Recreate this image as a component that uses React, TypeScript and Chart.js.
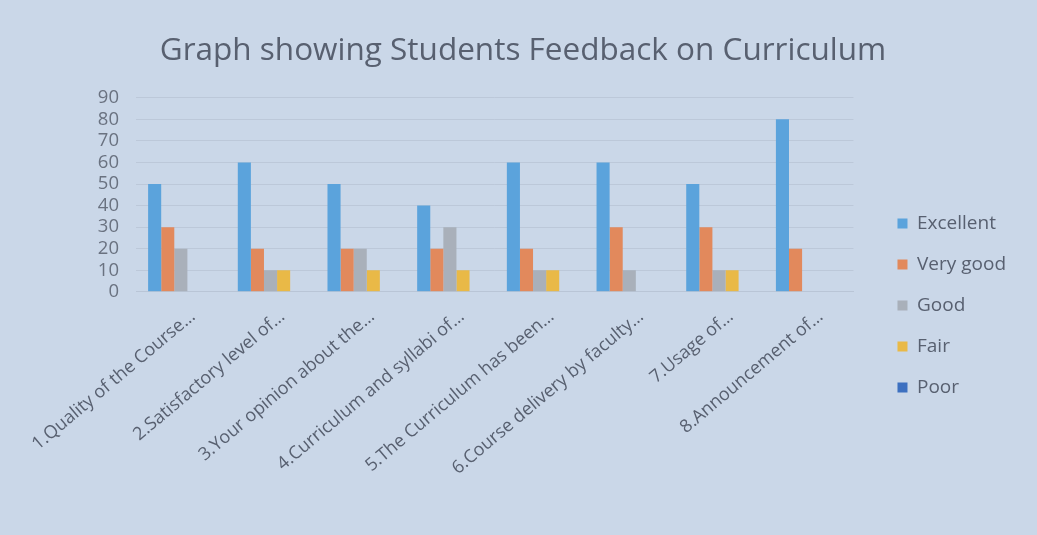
import React, { useEffect, useRef } from "react";
import { Chart, registerables } from "chart.js";

Chart.register(...registerables);

const categories = [
  "1.Quality of the Course…",
  "2.Satisfactory level of…",
  "3.Your opinion about the…",
  "4.Curriculum and syllabi of…",
  "5.The Curriculum has been…",
  "6.Course delivery by faculty…",
  "7.Usage of…",
  "8.Announcement of…",
];

const excellent = [50, 60, 50, 40, 60, 60, 50, 80];
const veryGood = [30, 20, 20, 20, 20, 30, 30, 20];
const good = [20, 10, 20, 30, 10, 10, 10, 0];
const fair = [0, 10, 10, 10, 10, 0, 10, 0];
const poor = [0, 0, 0, 0, 0, 0, 0, 0];

const seriesNames = ["Excellent", "Very good", "Good", "Fair", "Poor"];
const seriesColors = ["#5ba3dc", "#e2895c", "#a9b0ba", "#e9b947", "#3d70c0"];

const titleText = "Graph showing Students Feedback on Curriculum";
const FONT = "'Open Sans', Lato, sans-serif";
const TEXT = "#586070";

export default function App() {
  const ref = useRef<HTMLCanvasElement | null>(null);
  useEffect(() => {
    if (!ref.current) return;
    const values = [excellent, veryGood, good, fair, poor];
    const chart = new Chart(ref.current, {
      type: "bar",
      data: {
        labels: categories,
        datasets: values.map((v, i) => ({
          label: seriesNames[i],
          data: v,
          backgroundColor: seriesColors[i],
          borderWidth: 0,
          categoryPercentage: 0.73,
          barPercentage: 1,
        })),
      },
      options: {
        animation: false,
        responsive: false,
        maintainAspectRatio: false,
        layout: { padding: { left: 30, right: 21, top: 22, bottom: 42 } },
        plugins: {
          title: {
            display: true,
            text: titleText,
            color: TEXT,
            font: { family: FONT, size: 31.5, weight: "normal" },
            padding: { top: 10, bottom: 28 },
          },
          legend: {
            position: "right",
            title: {
              display: true,
              text: " ",
              font: { size: 1 },
              padding: { top: 95, bottom: 0 },
            },
            labels: {
              boxWidth: 10,
              boxHeight: 10,
              padding: 22,
              color: TEXT,
              font: { family: FONT, size: 19 },
            },
          },
          tooltip: { enabled: false },
        },
        scales: {
          x: {
            grid: { display: false, drawTicks: false },
            border: { display: true, color: "#b9c5d6" },
            ticks: {
              color: TEXT,
              font: { family: FONT, size: 18 },
              minRotation: 40,
              maxRotation: 40,
              autoSkip: false,
              padding: 14,
              labelOffset: 12,
            },
          },
          y: {
            min: 0,
            max: 90,
            afterFit: (s: any) => {
              s.width = 106;
            },
            ticks: {
              stepSize: 10,
              autoSkip: false,
              color: "#6a7280",
              font: { family: FONT, size: 18.5 },
              padding: 17,
            },
            grid: { color: "#bcc8d9", drawTicks: false },
            border: { display: false },
          },
          gap: {
            position: "right",
            display: true,
            afterFit: (s: any) => {
              s.width = 22;
            },
            ticks: { display: false },
            grid: { display: false, drawTicks: false },
            border: { display: false },
          },
        },
      },
    });
    return () => chart.destroy();
  }, []);
  return (
    <div
      style={{
        position: "fixed",
        left: 0,
        top: 0,
        width: 1037,
        height: 535,
        background: "#cad7e8",
      }}
    >
      <canvas ref={ref} width={1037} height={535} />
    </div>
  );
}
